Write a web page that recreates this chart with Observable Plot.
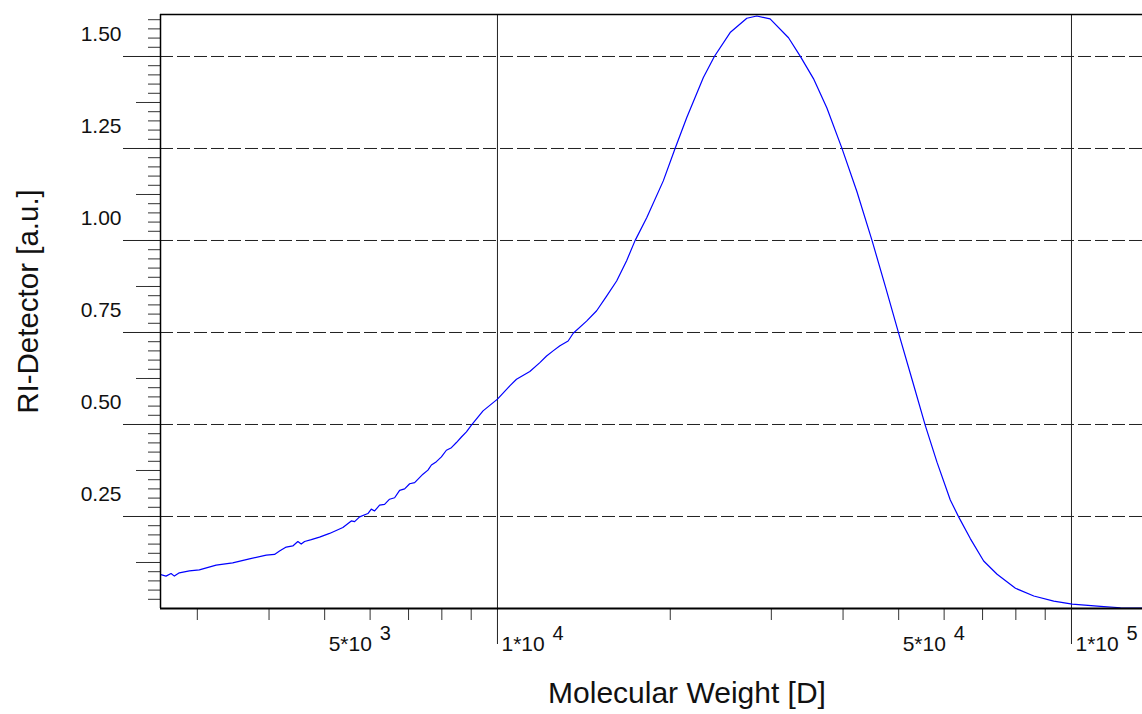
<!DOCTYPE html>
<html><head><meta charset="utf-8">
<script src="https://cdn.jsdelivr.net/npm/d3@7"></script>
<script src="https://cdn.jsdelivr.net/npm/@observablehq/plot@0.6"></script>
<style>html,body{margin:0;padding:0;background:#fff;}</style>
</head><body><div id="chart"></div>
<script>
// Molecular weight [D] (x) and RI-detector signal [a.u.] (y)
const molWeight = [2577,2646,2700,2736,2791,2906,3024,3235,3457,3697,3956,4089,4172,4285,4400,4490,4551,4613,4739,4898,5099,5379,5563,5638,5752,5947,6028,6109,6232,6358,6487,6620,6754,6891,7031,7173,7416,7566,7672,7827,7986,8147,8313,8482,8654,8829,9008,9438,10000,10507,10793,11386,11853,12177,12500,12848,13277,13551,14296,14886,15493,16129,16788,17357,18197,19448,20390,21370,22840,23870,25430,27190,28300,29850,32140,33680,35520,37490,39810,42280,44910,47380,49970,52740,55640,58320,61500,63590,66640,70310,74200,79870,85970,93130,100300,112370,121740,133000];
const riSignal = [0.093,0.088,0.095,0.088,0.097,0.102,0.105,0.118,0.124,0.135,0.145,0.147,0.156,0.167,0.170,0.182,0.175,0.182,0.187,0.194,0.204,0.220,0.238,0.236,0.249,0.258,0.270,0.265,0.281,0.283,0.297,0.301,0.321,0.325,0.339,0.342,0.365,0.376,0.390,0.399,0.412,0.430,0.437,0.451,0.466,0.480,0.498,0.537,0.569,0.605,0.623,0.644,0.668,0.686,0.700,0.714,0.727,0.748,0.781,0.809,0.849,0.890,0.945,0.999,1.062,1.162,1.250,1.334,1.443,1.500,1.565,1.604,1.610,1.602,1.551,1.501,1.440,1.360,1.251,1.133,1.001,0.876,0.749,0.623,0.497,0.397,0.295,0.249,0.190,0.129,0.093,0.055,0.034,0.020,0.012,0.006,0.002,0.001];

const xDomain = [2588, 132960];
const yDomain = [0, 1.6141];

const yGridValues = [0.25, 0.5, 0.75, 1.0, 1.25, 1.5];
const yTickLabels = ["0.25", "0.50", "0.75", "1.00", "1.25", "1.50"];
const yMediumTicks = [0.125, 0.375, 0.625, 0.875, 1.125, 1.375];
const yMinorTicks = d3.range(1, 65).map(i => +(i * 0.025).toFixed(3));

const xMajorTicks = [10000, 100000];
const xMinorTicks = [3000, 4000, 5000, 6000, 7000, 8000, 9000, 20000, 30000, 40000, 50000, 60000, 70000, 80000, 90000];
const xLabelValues = [5000, 10000, 50000, 100000];
const xLabelMantissa = ["5*10", "1*10", "5*10", "1*10"];
const xLabelExponent = ["3", "4", "4", "5"];

const xTitle = "Molecular Weight [D]";
const yTitle = "RI-Detector [a.u.]";

const data = molWeight.map((m, i) => ({mw: m, ri: riSignal[i]}));

const chart = Plot.plot({
  width: 1142,
  height: 714,
  marginLeft: 160,
  marginRight: 0,
  marginTop: 14,
  marginBottom: 106,
  x: {type: "log", domain: xDomain, label: null},
  y: {domain: yDomain, label: null},
  style: {fontFamily: "'Liberation Sans', Arial, Helvetica, sans-serif", background: "white", color: "black", overflow: "visible"},
  marks: [
    Plot.ruleY(yGridValues, {stroke: "#222", strokeWidth: 1, strokeDasharray: "13,4"}),
    Plot.ruleX(xMajorTicks, {stroke: "#222", strokeWidth: 1}),
    Plot.axisY({ticks: yMinorTicks, tickSize: 12, tickFormat: () => "", label: null, stroke: "#333"}),
    Plot.axisY({ticks: yMediumTicks, tickSize: 24, tickFormat: () => "", label: null, stroke: "#333"}),
    Plot.axisY({ticks: yGridValues, tickSize: 37, tickFormat: () => "", label: null, stroke: "#222"}),
    Plot.axisX({ticks: xMinorTicks, tickSize: 12, tickFormat: () => "", label: null, stroke: "#333"}),
    Plot.axisX({ticks: xMajorTicks, tickSize: 36, tickFormat: () => "", label: null, stroke: "#222"}),
    Plot.line(data, {x: "mw", y: "ri", stroke: "#0000ff", strokeWidth: 1.2, clip: true}),
    Plot.ruleY([yDomain[1]], {stroke: "black", strokeWidth: 1.5}),
    Plot.ruleX([xDomain[0]], {stroke: "black", strokeWidth: 1.5}),
    Plot.ruleY([yDomain[0]], {stroke: "black", strokeWidth: 2.2}),
    Plot.text(yGridValues, {y: d => d, text: (d, i) => yTickLabels[i], frameAnchor: "left", dx: -39, dy: -22.5, textAnchor: "end", lineAnchor: "middle", fontSize: 21, fill: "#111"}),
    Plot.text(xLabelValues, {x: d => d, text: (d, i) => xLabelMantissa[i], frameAnchor: "bottom", dx: 4, dy: 42.5, textAnchor: "start", lineAnchor: "bottom", fontSize: 21, fill: "#111"}),
    Plot.text(xLabelValues, {x: d => d, text: (d, i) => xLabelExponent[i], frameAnchor: "bottom", dx: 55, dy: 31.5, textAnchor: "start", lineAnchor: "bottom", fontSize: 20, fill: "#111"}),
    Plot.text([xTitle], {text: d => d, frameAnchor: "bottom", dx: 35.5, dy: 94.8, lineAnchor: "bottom", textAnchor: "middle", fontSize: 30, fill: "#111"}),
    Plot.text([yTitle], {text: d => d, frameAnchor: "left", rotate: -90, dx: -132, dy: -10, lineAnchor: "middle", textAnchor: "middle", fontSize: 29.5, fill: "#111"})
  ]
});
document.getElementById("chart").appendChild(chart);
</script></body></html>
